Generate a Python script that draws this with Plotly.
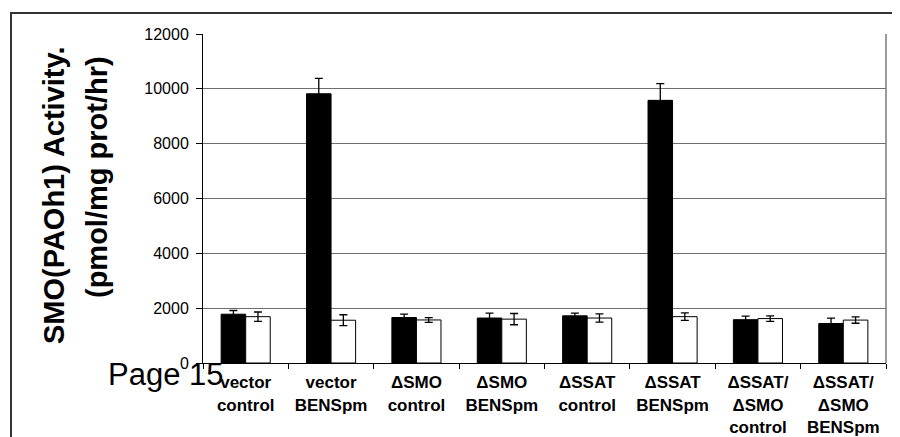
import plotly.graph_objects as go

categories = [
    "vector<br>control", "vector<br>BENSpm",
    "ΔSMO<br>control", "ΔSMO<br>BENSpm",
    "ΔSSAT<br>control", "ΔSSAT<br>BENSpm",
    "ΔSSAT/<br>ΔSMO<br>control", "ΔSSAT/<br>ΔSMO<br>BENSpm",
]
black_vals = [1780, 9820, 1660, 1640, 1720, 9580, 1580, 1440]
black_err = [135, 560, 120, 180, 100, 610, 130, 200]
white_vals = [1690, 1560, 1570, 1600, 1640, 1690, 1620, 1565]
white_err = [170, 200, 85, 205, 150, 135, 100, 115]

# the page body has an 8px margin, so screen positions are shifted back by 8
OFF = 8
W, H = 900, 437
L, R, T, B = 203 - OFF, 886 - OFF, 34 - OFF, 363 - OFF
pw, ph = R - L, B - T


def px(x):
    return (x - OFF - L) / pw


def py(y):
    return 1 - (y - OFF - T) / ph


err_style = dict(type="data", visible=True, color="black", thickness=1.3, width=4)

fig = go.Figure()
fig.add_trace(go.Bar(
    x=categories, y=black_vals,
    error_y=dict(array=black_err, **err_style),
    marker=dict(color="black", line=dict(color="black", width=1)),
    showlegend=False,
))
fig.add_trace(go.Bar(
    x=categories, y=white_vals,
    error_y=dict(array=white_err, **err_style),
    marker=dict(color="white", line=dict(color="black", width=1)),
    showlegend=False,
))

fig.update_layout(
    width=W, height=H,
    margin=dict(l=L, r=W - R, t=T, b=H - B),
    paper_bgcolor="white", plot_bgcolor="white",
    barmode="group", bargap=0.425, bargroupgap=0,
    font=dict(family="Liberation Sans, Arial", color="black"),
    xaxis=dict(
        automargin=False,
        showline=True, linecolor="black", linewidth=1,
        ticks="outside", ticklen=5, tickcolor="black", tickson="boundaries",
        tickfont=dict(size=17, weight="bold"),
        ticklabelstandoff=4,
        showgrid=False,
    ),
    yaxis=dict(
        automargin=False,
        range=[0, 12000], dtick=2000, tickformat="d",
        showline=True, linecolor="black", linewidth=1,
        ticks="outside", ticklen=6, tickcolor="black",
        tickfont=dict(size=16),
        ticklabelstandoff=4,
        showgrid=True, gridcolor="#6e6e6e", gridwidth=1,
        zeroline=False,
    ),
    shapes=[
        # right border of plot area
        dict(type="line", xref="paper", yref="paper", x0=1, x1=1, y0=0, y1=1,
             line=dict(color="#7a7a7a", width=1.5)),
        # outer frame
        dict(type="rect", xref="paper", yref="paper",
             x0=px(11), x1=px(896), y0=py(470), y1=py(13),
             line=dict(color="#333333", width=2), layer="below"),
    ],
    annotations=[
        dict(text="<b>SMO(PAOh1) Activity.</b>", xref="paper", yref="paper",
             x=px(54), y=py(195), textangle=-90, showarrow=False,
             xanchor="center", yanchor="middle",
             font=dict(size=29, family="Liberation Sans, Arial")),
        dict(text="<b>(pmol/mg prot/hr)</b>", xref="paper", yref="paper",
             x=px(97), y=py(177), textangle=-90, showarrow=False,
             xanchor="center", yanchor="middle",
             font=dict(size=29, family="Liberation Sans, Arial")),
        dict(text="Page 15", xref="paper", yref="paper",
             x=px(166), y=py(374), showarrow=False,
             xanchor="center", yanchor="middle",
             font=dict(size=31, family="Liberation Sans, Arial")),
    ],
)

fig.write_html("out.html")
